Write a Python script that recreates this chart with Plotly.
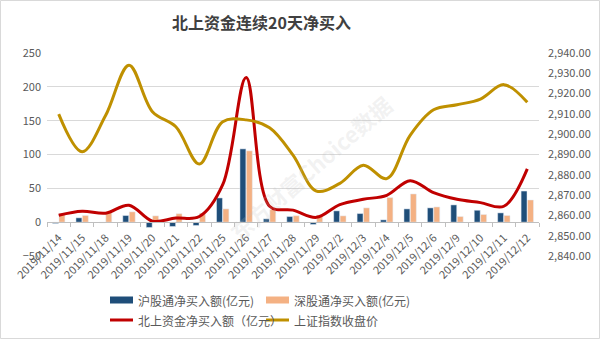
import plotly.graph_objects as go

# Trading days shown on the category axis
dates = ["2019/11/14", "2019/11/15", "2019/11/18", "2019/11/19", "2019/11/20",
         "2019/11/21", "2019/11/22", "2019/11/25", "2019/11/26", "2019/11/27",
         "2019/11/28", "2019/11/29", "2019/12/2", "2019/12/3", "2019/12/4",
         "2019/12/5", "2019/12/6", "2019/12/9", "2019/12/10", "2019/12/11",
         "2019/12/12"]

# Net buying via Shanghai / Shenzhen Connect (100 million CNY)
sh_net = [-2.0, 6.4, -1.0, 9.8, -7.8, -6.4, -4.9, 35.8, 108.3, 4.9,
          8.3, -3.4, 16.7, 12.7, 3.4, 19.6, 21.1, 25.5, 17.6, 13.7, 46.0]
sz_net = [12.3, 9.8, 14.2, 15.2, 9.3, 12.5, 13.2, 19.6, 105.4, 18.6,
          9.5, 10.5, 9.3, 21.1, 36.3, 41.7, 22.5, 8.3, 11.3, 9.8, 32.8]
# Total northbound = Shanghai + Shenzhen
north_net = [round(a + b, 1) for a, b in zip(sh_net, sz_net)]

# Shanghai Composite close
sse_close = [2909.87, 2891.34, 2909.20, 2933.99, 2911.05, 2903.64, 2885.29,
             2906.17, 2907.06, 2903.19, 2889.69, 2871.98, 2875.81, 2884.70,
             2878.12, 2899.47, 2912.01, 2914.48, 2917.32, 2924.42, 2915.70]

left_ticks = [-50, 0, 50, 100, 150, 200, 250]
right_ticks = [2840, 2850, 2860, 2870, 2880, 2890, 2900, 2910, 2920, 2930, 2940]

C_SH = "#1f4e79"
C_SZ = "#f4b183"
C_NORTH = "#c00000"
C_SSE = "#bf9000"
GRID = "#d9d9d9"
TXT = "#595959"
FONT = "Noto Sans CJK SC, Liberation Sans, sans-serif"

W, H = 600, 339
L, R, T, B = 47, 61, 53, 83
PW, PH = W - L - R, H - T - B


def px(x):
    return (x - L) / PW


def py(y):
    return (H - B - y) / PH


fig = go.Figure()
fig.add_trace(go.Bar(x=dates, y=sh_net, name="沪股通净买入额(亿元)",
                     marker_color=C_SH, showlegend=False))
fig.add_trace(go.Bar(x=dates, y=sz_net, name="深股通净买入额(亿元)",
                     marker_color=C_SZ, showlegend=False))
fig.add_trace(go.Scatter(x=dates, y=north_net, name="北上资金净买入额（亿元）",
                         mode="lines", line=dict(color=C_NORTH, width=3, shape="spline", smoothing=1.0),
                         showlegend=False))
fig.add_trace(go.Scatter(x=dates, y=sse_close, name="上证指数收盘价", yaxis="y2",
                         mode="lines", line=dict(color=C_SSE, width=3, shape="spline", smoothing=1.0),
                         showlegend=False))

zero_pos = (0 - left_ticks[0]) / (left_ticks[-1] - left_ticks[0])

fig.update_layout(
    width=W, height=H,
    margin=dict(l=L, r=R, t=T, b=B, autoexpand=False),
    paper_bgcolor="white", plot_bgcolor="white",
    font=dict(family=FONT, size=11, color=TXT),
    barmode="group", bargap=0.45, bargroupgap=0.08,
    xaxis=dict(type="category", categoryorder="array", categoryarray=dates,
               anchor="free", position=zero_pos,
               showline=True, linecolor="#bfbfbf", linewidth=1,
               ticks="outside", tickson="boundaries", ticklen=4, tickcolor="#bfbfbf",
               tickangle=-45, ticklabelstandoff=4, tickfont=dict(size=11, color=TXT),
               showgrid=False, automargin=False, fixedrange=True),
    yaxis=dict(range=[left_ticks[0], left_ticks[-1]], tickvals=left_ticks,
               showgrid=True, gridcolor=GRID, gridwidth=1, zeroline=False,
               showline=False, ticks="", ticklabelstandoff=5,
               tickfont=dict(size=11, color=TXT), automargin=False),
    yaxis2=dict(range=[right_ticks[0], right_ticks[-1]], tickvals=right_ticks,
                overlaying="y", side="right", showgrid=False, zeroline=False,
                showline=False, ticks="", tickformat=",.2f", ticklabelstandoff=8,
                tickfont=dict(size=11, color=TXT), automargin=False),
)

annotations = [
    dict(text="<b>北上资金连续20天净买入</b>", x=px(261), y=py(22), xref="paper", yref="paper",
         showarrow=False, xanchor="center", yanchor="middle",
         font=dict(size=16, color="#404040", family=FONT)),
    dict(text="<b>东方财富Choice数据</b>", x=px(310), y=py(168), xref="paper", yref="paper",
         showarrow=False, textangle=-41, xanchor="center", yanchor="middle",
         font=dict(size=22, color="rgba(190,190,190,0.2)", family=FONT)),
]

shapes = [
    dict(type="rect", xref="paper", yref="paper", x0=px(0.5), x1=px(599.5),
         y0=py(0.5), y1=py(338.5), line=dict(color="#d9d9d9", width=1), fillcolor="rgba(0,0,0,0)"),
]

# Legend drawn as two rows of swatches and labels
legend_items = [
    ("rect", C_SH, "沪股通净买入额(亿元)", 110, 300),
    ("rect", C_SZ, "深股通净买入额(亿元)", 266, 300),
    ("line", C_NORTH, "北上资金净买入额（亿元）", 110, 320),
    ("line", C_SSE, "上证指数收盘价", 266, 320),
]
for kind, color, label, x0, yc in legend_items:
    if kind == "rect":
        shapes.append(dict(type="rect", xref="paper", yref="paper",
                           x0=px(x0), x1=px(x0 + 23), y0=py(yc - 3.5), y1=py(yc + 3.5),
                           line=dict(width=0), fillcolor=color))
    else:
        shapes.append(dict(type="line", xref="paper", yref="paper",
                           x0=px(x0), x1=px(x0 + 23), y0=py(yc), y1=py(yc),
                           line=dict(color=color, width=3)))
    annotations.append(dict(text=label, x=px(x0 + 26), y=py(yc), xref="paper", yref="paper",
                            showarrow=False, xanchor="left", yanchor="middle",
                            font=dict(size=12, color=TXT, family=FONT)))

fig.update_layout(annotations=annotations, shapes=shapes)

fig.write_html("out.html")
